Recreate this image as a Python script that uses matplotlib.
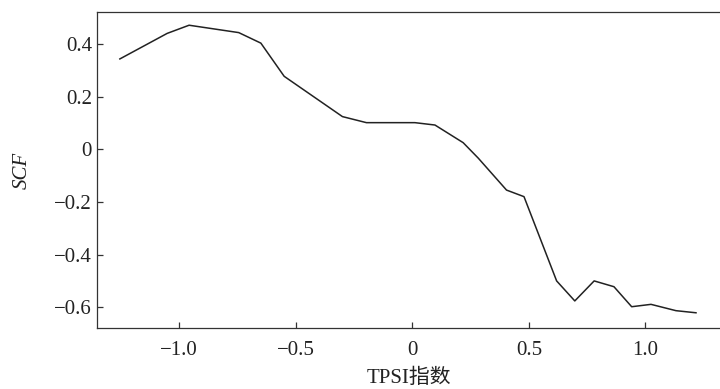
import matplotlib
matplotlib.use("Agg")
import matplotlib.pyplot as plt
from matplotlib.ticker import FixedLocator, FixedFormatter

# TPSI index vs SCF
tpsi = [-1.255, -1.052, -0.958, -0.745, -0.650, -0.550, -0.300, -0.197,
        0.011, 0.097, 0.218, 0.283, 0.404, 0.479, 0.619, 0.697, 0.780,
        0.865, 0.941, 1.024, 1.131, 1.217]
scf = [0.343, 0.440, 0.471, 0.443, 0.403, 0.277, 0.124, 0.101,
       0.101, 0.092, 0.025, -0.034, -0.155, -0.180, -0.500, -0.576, -0.500,
       -0.522, -0.598, -0.589, -0.613, -0.621]

xticks = [-1.0, -0.5, 0, 0.5, 1.0]
xticklabels = ["\u22121.0", "\u22120.5", "0", "0.5", "1.0"]
yticks = [0.4, 0.2, 0, -0.2, -0.4, -0.6]
yticklabels = ["0.4", "0.2", "0", "\u22120.2", "\u22120.4", "\u22120.6"]

plt.rcParams["font.family"] = ["Liberation Serif", "Noto Sans CJK SC"]
plt.rcParams["font.size"] = 15

fig = plt.figure(figsize=(7.2, 3.89), dpi=100)
ax = fig.add_axes([0.1354, 0.156, 0.8646, 0.813])

ax.plot(tpsi, scf, color="#222222", linewidth=1.1)

ax.set_xlim(-1.351, 1.32)
ax.set_ylim(-0.68, 0.521)

ax.xaxis.set_major_locator(FixedLocator(xticks))
ax.xaxis.set_major_formatter(FixedFormatter(xticklabels))
ax.yaxis.set_major_locator(FixedLocator(yticks))
ax.yaxis.set_major_formatter(FixedFormatter(yticklabels))

ax.tick_params(direction="in", length=4, width=0.9, color="#333333",
               labelcolor="#222222")
ax.tick_params(axis="x", pad=9)
ax.tick_params(axis="y", pad=4)

ax.spines["right"].set_visible(False)
for s in ("left", "bottom", "top"):
    ax.spines[s].set_linewidth(0.9)
    ax.spines[s].set_color("#333333")

ax.set_xlabel("TPSI指数", color="#222222", labelpad=6.5)
ax.set_ylabel("SCF", style="italic", color="#222222", labelpad=16)

fig.savefig("out.png", dpi=100)
